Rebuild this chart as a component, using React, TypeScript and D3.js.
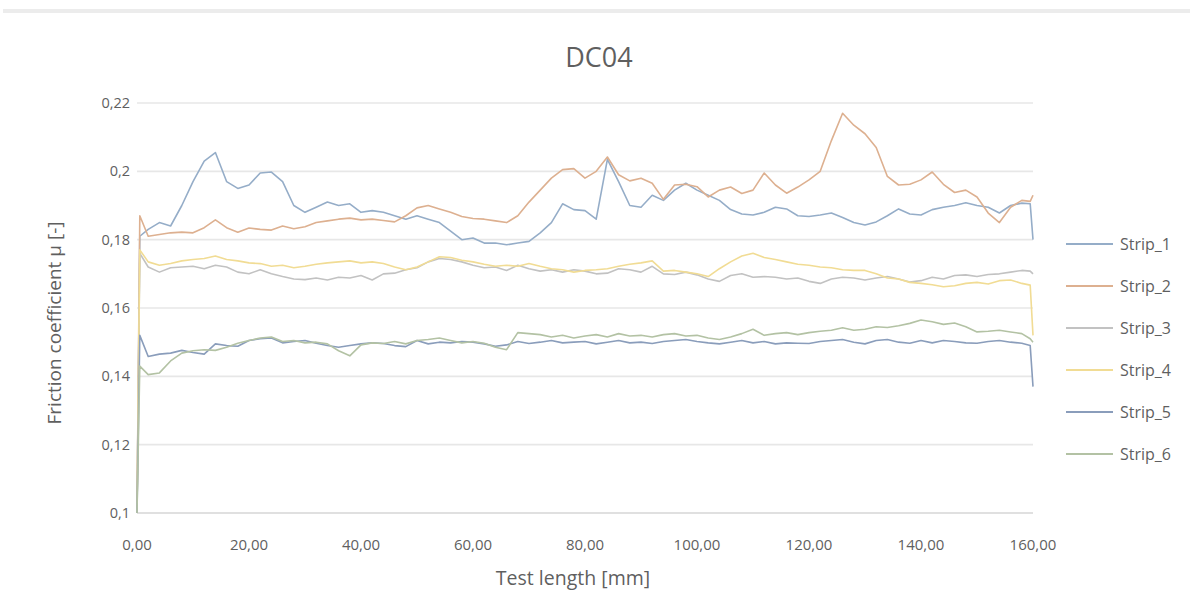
import React from "react";
import * as d3 from "d3";

// Sample positions along the strip [mm]
const testLength = [
  0, 0.5, 2, 4, 6, 8, 10, 12, 14, 16, 18, 20, 22, 24, 26, 28, 30, 32, 34, 36, 38, 40,
  42, 44, 46, 48, 50, 52, 54, 56, 58, 60, 62, 64, 66, 68, 70, 72, 74, 76, 78, 80,
  82, 84, 86, 88, 90, 92, 94, 96, 98, 100, 102, 104, 106, 108, 110, 112, 114, 116, 118, 120,
  122, 124, 126, 128, 130, 132, 134, 136, 138, 140, 142, 144, 146, 148, 150, 152, 154, 156, 158, 159.5, 160,
];

const strip1 = [
  0.1, 0.181, 0.183, 0.185, 0.184, 0.19, 0.197, 0.203, 0.2055, 0.197, 0.195, 0.196, 0.1995, 0.1998, 0.197, 0.19, 0.188, 0.1895, 0.191, 0.19, 0.1905, 0.188,
  0.1885, 0.188, 0.187, 0.186, 0.187, 0.186, 0.185, 0.1825, 0.18, 0.1805, 0.179, 0.179, 0.1785, 0.179, 0.1795, 0.182, 0.185, 0.1905, 0.1888, 0.1885,
  0.186, 0.2035, 0.197, 0.19, 0.1895, 0.193, 0.1915, 0.1945, 0.1965, 0.1945, 0.193, 0.1915, 0.1888, 0.1875, 0.1872, 0.188, 0.1895, 0.189, 0.187, 0.1868,
  0.1872, 0.1878, 0.1865, 0.185, 0.1843, 0.1852, 0.187, 0.189, 0.1875, 0.1872, 0.1888, 0.1895, 0.19, 0.1908, 0.19, 0.1895, 0.1878, 0.19, 0.1907, 0.1905, 0.18,
];

const strip2 = [
  0.1, 0.187, 0.181, 0.1815, 0.182, 0.1822, 0.182, 0.1835, 0.1858, 0.1835, 0.1822, 0.1834, 0.183, 0.1828, 0.184, 0.1832, 0.1838, 0.185, 0.1855, 0.186, 0.1863, 0.1858,
  0.186, 0.1856, 0.1852, 0.187, 0.1893, 0.19, 0.189, 0.188, 0.1868, 0.1862, 0.186, 0.1855, 0.185, 0.187, 0.191, 0.1945, 0.198, 0.2005, 0.2008, 0.198,
  0.2, 0.2042, 0.199, 0.1972, 0.198, 0.1965, 0.1918, 0.196, 0.1962, 0.1955, 0.1925, 0.1945, 0.1954, 0.1935, 0.1945, 0.1995, 0.196, 0.1936, 0.1954, 0.1975,
  0.2, 0.209, 0.217, 0.2135, 0.211, 0.207, 0.1985, 0.196, 0.1962, 0.1975, 0.1998, 0.1962, 0.1938, 0.1945, 0.1925, 0.1878, 0.185, 0.1895, 0.1915, 0.1912, 0.193,
];

const strip3 = [
  0.1, 0.176, 0.172, 0.1705, 0.1718, 0.172, 0.1722, 0.1715, 0.1725, 0.172, 0.1705, 0.17, 0.1712, 0.17, 0.1692, 0.1685, 0.1683, 0.1688, 0.1682, 0.169, 0.1688, 0.1695,
  0.1682, 0.17, 0.1702, 0.1712, 0.1718, 0.1735, 0.1745, 0.1742, 0.1735, 0.1725, 0.1718, 0.172, 0.171, 0.1725, 0.1715, 0.1708, 0.1712, 0.1705, 0.1712, 0.1708,
  0.17, 0.1702, 0.1715, 0.1712, 0.1705, 0.1722, 0.17, 0.1698, 0.1705, 0.1697, 0.1685, 0.1678, 0.1695, 0.17, 0.169, 0.1692, 0.169, 0.1685, 0.1688, 0.1678,
  0.1672, 0.1685, 0.169, 0.1688, 0.1682, 0.1688, 0.1692, 0.1685, 0.1676, 0.168, 0.169, 0.1685, 0.1695, 0.1697, 0.1692, 0.1698, 0.17, 0.1705, 0.171, 0.1708, 0.17,
];

const strip4 = [
  0.1, 0.177, 0.1735, 0.1725, 0.173, 0.1738, 0.1742, 0.1745, 0.1752, 0.1742, 0.1738, 0.1732, 0.173, 0.1722, 0.1725, 0.1718, 0.1722, 0.1728, 0.1732, 0.1735, 0.1738, 0.1732,
  0.1735, 0.173, 0.172, 0.1712, 0.172, 0.1735, 0.175, 0.1748, 0.174, 0.1735, 0.1728, 0.1722, 0.1725, 0.1722, 0.173, 0.1722, 0.1715, 0.1712, 0.1705, 0.171,
  0.1712, 0.1715, 0.1722, 0.1728, 0.1732, 0.1738, 0.1708, 0.171, 0.1705, 0.17, 0.1692, 0.1715, 0.1735, 0.1752, 0.176, 0.1748, 0.1742, 0.1735, 0.1728, 0.1725,
  0.172, 0.1718, 0.1712, 0.171, 0.171, 0.17, 0.1688, 0.1685, 0.1675, 0.1672, 0.1668, 0.1662, 0.1665, 0.1672, 0.1675, 0.167, 0.168, 0.1682, 0.1672, 0.1667, 0.152,
];

const strip5 = [
  0.1, 0.152, 0.1458, 0.1465, 0.1468, 0.1476, 0.147, 0.1465, 0.1495, 0.149, 0.1488, 0.1505, 0.151, 0.1512, 0.1498, 0.1502, 0.1505, 0.1497, 0.149, 0.1485, 0.149, 0.1495,
  0.1498, 0.1496, 0.149, 0.1487, 0.1505, 0.1495, 0.15, 0.1498, 0.1502, 0.15, 0.1495, 0.1488, 0.1492, 0.1502, 0.1496, 0.15, 0.1505, 0.1498, 0.15, 0.1502,
  0.1495, 0.15, 0.1505, 0.1498, 0.15, 0.1496, 0.1502, 0.1505, 0.1508, 0.1502, 0.1498, 0.1495, 0.15, 0.1505, 0.1498, 0.1502, 0.1495, 0.1498, 0.1497, 0.1496,
  0.1502, 0.1505, 0.1508, 0.15, 0.1495, 0.1505, 0.1508, 0.15, 0.1497, 0.1505, 0.1498, 0.1505, 0.1502, 0.1498, 0.1497, 0.1502, 0.1505, 0.15, 0.1497, 0.149, 0.137,
];

const strip6 = [
  0.1, 0.143, 0.1405, 0.141, 0.1445, 0.1468, 0.1475, 0.1478, 0.1476, 0.1485, 0.1497, 0.1505, 0.1512, 0.1515, 0.1502, 0.1505, 0.1498, 0.15, 0.1495, 0.1475, 0.146, 0.1492,
  0.1498, 0.1496, 0.1502, 0.1495, 0.1505, 0.1508, 0.1512, 0.1505, 0.1498, 0.1502, 0.1497, 0.1485, 0.1478, 0.1528, 0.1525, 0.1522, 0.1515, 0.152, 0.1512, 0.1518,
  0.1522, 0.1515, 0.1525, 0.1518, 0.152, 0.1515, 0.1522, 0.1525, 0.1518, 0.152, 0.1512, 0.1508, 0.1515, 0.1525, 0.1538, 0.152, 0.1525, 0.1528, 0.1522, 0.1528,
  0.1532, 0.1535, 0.1542, 0.1535, 0.1538, 0.1545, 0.1543, 0.1548, 0.1555, 0.1565, 0.156, 0.1552, 0.1556, 0.1545, 0.153, 0.1532, 0.1535, 0.153, 0.1525, 0.151, 0.15,
];

const seriesNames = ["Strip_1", "Strip_2", "Strip_3", "Strip_4", "Strip_5", "Strip_6"];
const seriesValues = [strip1, strip2, strip3, strip4, strip5, strip6];
const seriesColors = ["#95adc8", "#ddb090", "#c2c2c2", "#f1dc94", "#8a9dbb", "#b3c2a4"];

const yTicks = [0.1, 0.12, 0.14, 0.16, 0.18, 0.2, 0.22];
const yTickLabels = ["0,1", "0,12", "0,14", "0,16", "0,18", "0,2", "0,22"];
const xTicks = [0, 20, 40, 60, 80, 100, 120, 140, 160];
const xTickLabels = ["0,00", "20,00", "40,00", "60,00", "80,00", "100,00", "120,00", "140,00", "160,00"];

const FONT = "'Open Sans', 'DejaVu Sans', sans-serif";
const TEXT = "#5f5f5f";

export default function App() {
  const width = 1190;
  const height = 590;
  const plot = { left: 137, right: 1033, top: 103, bottom: 513 };

  const x = d3.scaleLinear().domain([0, 160]).range([plot.left, plot.right]);
  const y = d3.scaleLinear().domain([0.1, 0.22]).range([plot.bottom, plot.top]);

  const line = d3
    .line<number>()
    .x((_, i) => x(testLength[i]))
    .y((d) => y(d));

  const legendX = 1066;
  const legendTop = 244;
  const legendStep = 42;

  return (
    <div style={{ position: "absolute", left: 0, top: 0 }}>
      <svg width={width} height={height} style={{ display: "block", background: "#fff" }}>
        <rect x={3} y={9} width={width - 3} height={4} fill="#ececec" />

        <text x={599} y={67} textAnchor="middle" fontFamily={FONT} fontSize={27} fill={TEXT}>
          DC04
        </text>

        {yTicks.map((t, i) => (
          <g key={`y${i}`}>
            <line
              x1={plot.left}
              x2={plot.right}
              y1={y(t)}
              y2={y(t)}
              stroke={i === 0 ? "#d6d6d6" : "#e7e7e7"}
              strokeWidth={1.6}
            />
            <text
              x={plot.left - 7}
              y={y(t)}
              dy="0.35em"
              textAnchor="end"
              fontFamily={FONT}
              fontSize={14.5}
              fill={TEXT}
            >
              {yTickLabels[i]}
            </text>
          </g>
        ))}

        {xTicks.map((t, i) => (
          <text
            key={`x${i}`}
            x={x(t)}
            y={545}
            dy="0.35em"
            textAnchor="middle"
            fontFamily={FONT}
            fontSize={15}
            fill={TEXT}
          >
            {xTickLabels[i]}
          </text>
        ))}

        <text x={573} y={578} dy="0.35em" textAnchor="middle" fontFamily={FONT} fontSize={19.5} fill={TEXT}>
          Test length [mm]
        </text>

        <text
          transform={`translate(54, 323) rotate(-90)`}
          textAnchor="middle"
          dy="0.35em"
          fontFamily={FONT}
          fontSize={19}
          fill={TEXT}
        >
          Friction coefficient μ [-]
        </text>

        <g fill="none" strokeLinejoin="round">
          {seriesValues.map((vals, i) => (
            <path key={seriesNames[i]} d={line(vals) || ""} stroke={seriesColors[i]} strokeWidth={1.6} />
          ))}
        </g>

        {seriesNames.map((name, i) => {
          const ly = legendTop + i * legendStep;
          return (
            <g key={`lg${i}`}>
              <line x1={legendX} x2={legendX + 47} y1={ly} y2={ly} stroke={seriesColors[i]} strokeWidth={2} />
              <text x={legendX + 54} y={ly} dy="0.35em" fontFamily={FONT} fontSize={16} fill={TEXT}>
                {name}
              </text>
            </g>
          );
        })}
      </svg>
    </div>
  );
}
